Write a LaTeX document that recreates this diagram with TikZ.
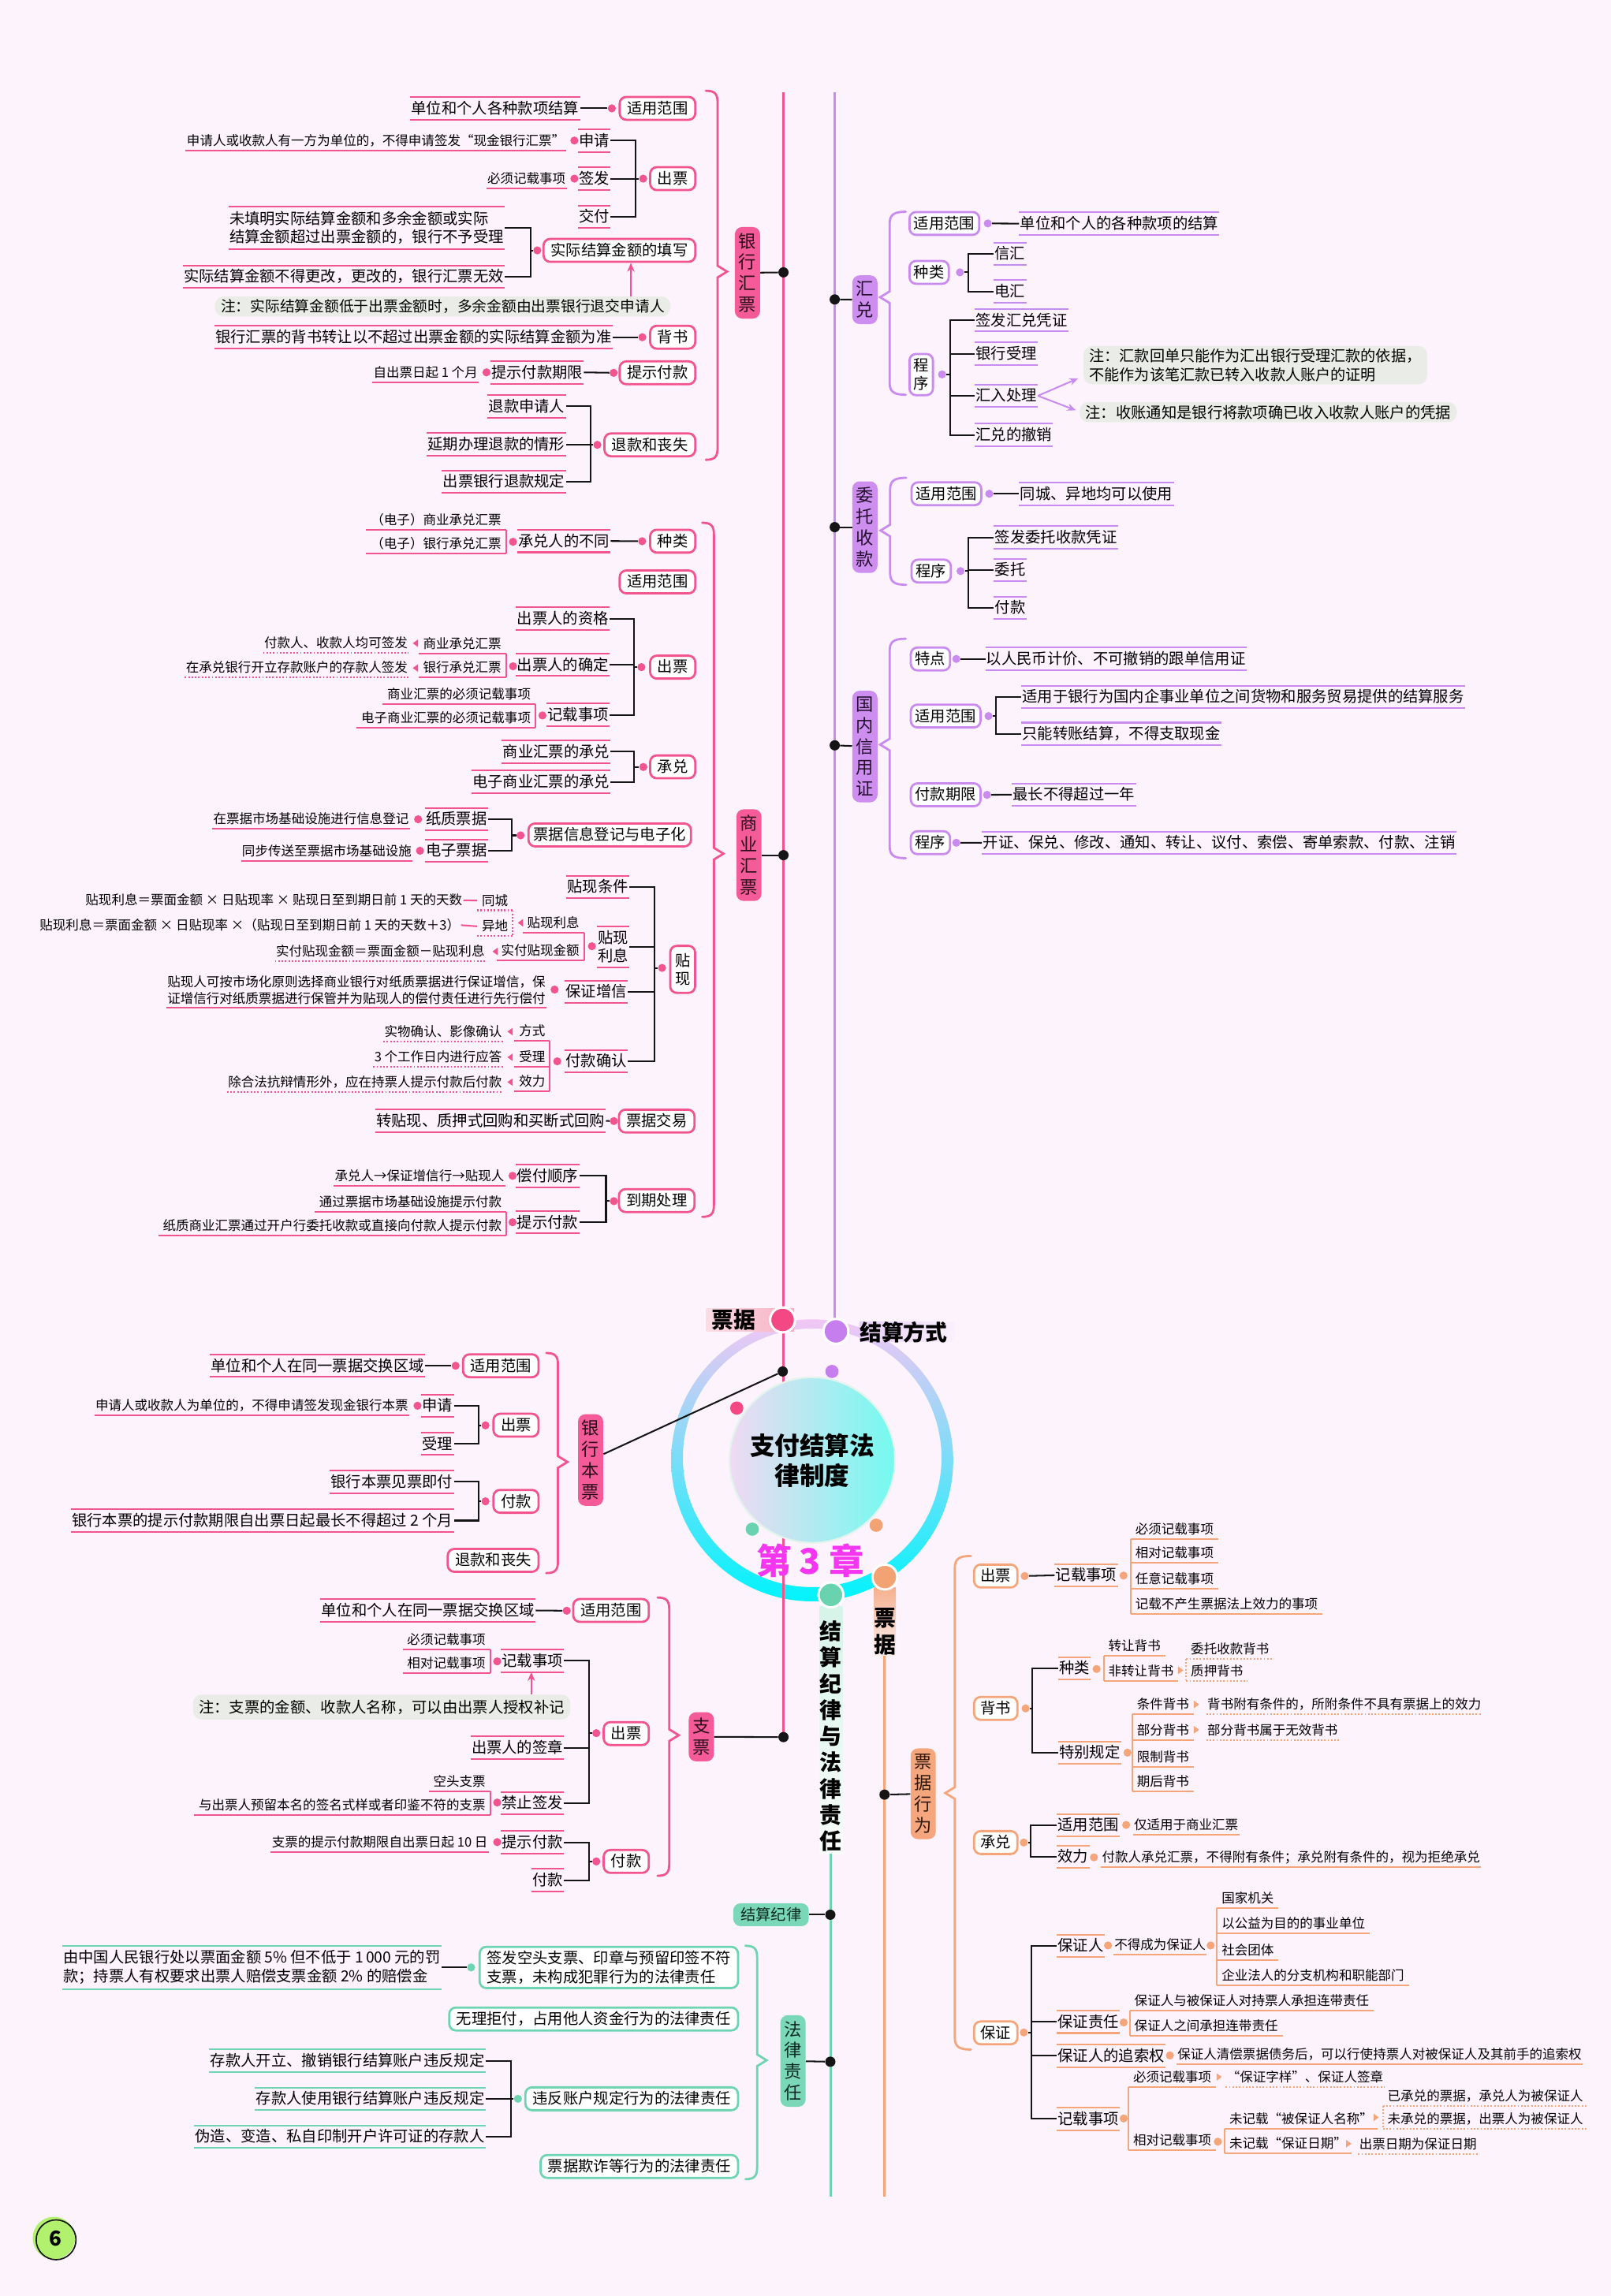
\documentclass[tikz,border=0pt]{standalone}
\usepackage{fontspec}
\setmainfont{Noto Sans CJK SC}
\usetikzlibrary{arrows.meta,calc}
\definecolor{bgc}{HTML}{FDF3FC}
\definecolor{blk}{HTML}{151515}
\definecolor{pk}{HTML}{F2548E}
\definecolor{pkf}{HTML}{F45B98}
\definecolor{pkdk}{HTML}{2A0C18}
\definecolor{pu}{HTML}{C98CEE}
\definecolor{puf}{HTML}{CE8EF0}
\definecolor{pudk}{HTML}{24102E}
\definecolor{tl}{HTML}{6FD4B1}
\definecolor{tlf}{HTML}{7AD8B8}
\definecolor{tldk}{HTML}{0E2A22}
\definecolor{og}{HTML}{F5A57A}
\definecolor{ogf}{HTML}{F5A67C}
\definecolor{ogdk}{HTML}{2E1508}
\definecolor{ntc}{HTML}{E9ECE7}
\definecolor{mg}{HTML}{F436F0}
\definecolor{ringT}{HTML}{F2C6F4}
\definecolor{ringM}{HTML}{96D6F6}
\definecolor{ringB}{HTML}{00F4FC}
\definecolor{ctrL}{HTML}{F0DAF2}
\definecolor{ctrR}{HTML}{74FAF0}
\definecolor{ctrE}{HTML}{E2F4EC}
\definecolor{pkd}{HTML}{F34884}
\definecolor{pud}{HTML}{C67EEF}
\definecolor{tld}{HTML}{68D3AE}
\definecolor{ogd}{HTML}{F3A274}
\definecolor{pkla}{HTML}{FBDDE6}
\definecolor{pklb}{HTML}{F7AFC3}
\definecolor{pula}{HTML}{E9CFF8}
\definecolor{pulb}{HTML}{FAF0FC}
\definecolor{ogla}{HTML}{F6B18E}
\definecolor{oglb}{HTML}{FCEFF1}
\definecolor{tlla}{HTML}{D6F4E9}
\definecolor{tllb}{HTML}{F7FCFA}
\definecolor{badge}{HTML}{B2F16E}
\newcommand\fbig{\fontsize{10.4}{12.5}\selectfont}
\newcommand\fsml{\fontsize{8.9}{11.3}\selectfont}
\newcommand\brkL[4]{\draw[cn] (#3.east) -- (#3.east -| #1) -- (#4.east -| #1) -- (#4.east); \draw[cn] (#2.center -| #1) -- (#2);}
\newcommand\brkR[4]{\draw[cn] (#3.west) -- (#3.west -| #1) -- (#4.west -| #1) -- (#4.west); \draw[cn] (#2.center -| #1) -- (#2);}
\newcommand\stubL[2]{\draw[cn] (#2.east) -- (#2.east -| #1);}
\newcommand\stubR[2]{\draw[cn] (#2.west) -- (#2.west -| #1);}
\newcommand\eL[3]{\draw[ln=#1] (#2.south east) -- (#3.south east);}
\newcommand\eR[3]{\draw[ln=#1] (#2.south west) -- (#3.south west);}
\newcommand\triL[3]{\fill[#1] (#2,#3) -- ({#2+3.6},{#3-2.6}) -- ({#2+3.6},{#3+2.6}) -- cycle;}
\newcommand\triR[3]{\fill[#1] (#2,#3) -- ({#2-3.6},{#3-2.6}) -- ({#2-3.6},{#3+2.6}) -- cycle;}
\newcommand\bracR[5]{\draw[#1,line width=1.5pt,line cap=round,line join=miter] ({#2-8},#3) .. controls ({#2-2},#3) and (#2,{#3+2}) .. (#2,{#3+8}) -- (#2,{#4-4.5}) -- ({#2+6.5},{#4-0.5}) -- (#2,{#4+3.5}) -- (#2,{#5-8}) .. controls (#2,{#5-2}) and ({#2-2},#5) .. ({#2-8},#5);}
\newcommand\bracL[5]{\draw[#1,line width=1.5pt,line cap=round,line join=miter] ({#2+11},#3) .. controls ({#2+3},#3) and (#2,{#3+2}) .. (#2,{#3+8}) -- (#2,{#4-4.5}) -- ({#2-6.5},{#4-0.5}) -- (#2,{#4+3.5}) -- (#2,{#5-8}) .. controls (#2,{#5-2}) and ({#2+3},#5) .. ({#2+11},#5);}
\tikzset{
  cn/.style={draw=blk,line width=1.1pt},
  ln/.style={draw=#1,line width=1.1pt},
  spine/.style={draw=#1,line width=1.6pt},
  lf/.style={font=\fbig,inner xsep=0.6pt,inner ysep=2.3pt,text height=8.9pt,text depth=1.5pt},
  sm/.style={font=\fsml,inner xsep=0.6pt,inner ysep=2pt,text height=7.6pt,text depth=1.3pt},
  ei/.style={sm,inner xsep=3pt},
  lf2/.style={font=\fbig,inner xsep=0.6pt,inner ysep=3pt},
  sm2/.style={font=\fsml,inner xsep=0.6pt,inner ysep=2pt},
  tb/.style={append after command={(\tikzlastnode.north west) edge[ln=#1] (\tikzlastnode.north east) (\tikzlastnode.south west) edge[ln=#1] (\tikzlastnode.south east)}},
  bo/.style={append after command={(\tikzlastnode.south west) edge[ln=#1] (\tikzlastnode.south east)}},
  du/.style={append after command={(\tikzlastnode.south west) edge[ln=#1,dash pattern=on 1pt off 1.3pt] (\tikzlastnode.south east)}},
  bx/.style={draw=#1,fill=white,rounded corners=4.5pt,line width=1.5pt,font=\fbig,inner xsep=5pt,inner ysep=2.6pt,text height=8.9pt,text depth=1.5pt},
  bxp/.style={bx=pu,inner xsep=3pt},
  bx2/.style={draw=#1,fill=white,rounded corners=4.5pt,line width=1.5pt,font=\fontsize{10.4}{12.9}\selectfont,inner xsep=5pt,inner ysep=2.6pt,align=left},
  vb/.style={draw=#1,fill=white,rounded corners=4.5pt,line width=1.5pt,font=\fbig,align=center,inner xsep=3.3pt,inner ysep=5pt},
  cat/.style={fill=#1f,text=#1dk,rounded corners=5pt,inner xsep=2.6pt,inner ysep=4pt,align=center,font=\fontsize{12}{14.5}\selectfont},
  dn/.style={circle,fill=#1,inner sep=0pt,minimum size=5.5pt},
  bd/.style={circle,fill=blk,inner sep=0pt,minimum size=7pt},
  big/.style={circle,fill=#1,draw=white,line width=1.6pt,minimum size=17pt,inner sep=0pt},
  smd/.style={circle,fill=#1,inner sep=0pt,minimum size=9pt},
  nt/.style={fill=ntc,rounded corners=6pt,font=\fbig,inner xsep=4pt,inner ysep=2pt},
  arr/.style={draw=#1,line width=1.1pt,-{Stealth[length=6pt,width=5pt]}},
  lbl/.style={font=\fontsize{15}{18.5}\selectfont\bfseries,inner sep=0pt,align=center},
}
\begin{document}
\begin{tikzpicture}[x=1pt,y=-1pt]
\useasboundingbox (0,0) rectangle (1100,1568);
\fill[bgc] (0,0) rectangle (1100,1568);
% ring
\shade[top color=ringT,middle color=ringM,bottom color=ringB,even odd rule] (554.6,997.3) circle (96.3pt) (554.6,995.6) circle (88.3pt);
% label backgrounds
\shade[left color=pkla,right color=pklb] (482.3,893.5) rectangle (542.1,909.2);
\shade[left color=pula,right color=pulb] (587,902.9) rectangle (651.6,916.4);
\shade[top color=ogla,bottom color=oglb] (596.8,1084) rectangle (611.7,1131);
\shade[top color=tlla,bottom color=tllb] (559.7,1097) rectangle (575.3,1266);
% spines
\coordinate (pkT) at (535,63); \coordinate (pkB) at (535,1186.3);
\coordinate (puT) at (570,63); \coordinate (puB) at (570,909);
\coordinate (tlT) at (567,1266); \coordinate (tlB) at (567,1500);
\coordinate (ogT) at (604,1131); \coordinate (ogB) at (604,1500);
\draw[spine=pk] (pkT) -- (pkB);
\draw[spine=pu] (puT) -- (puB);
\draw[spine=tl] (tlT) -- (tlB);
\draw[spine=og] (ogT) -- (ogB);
% center
\node[circle,minimum size=113pt,inner sep=0pt,left color=ctrL,right color=ctrR,draw=ctrE,line width=1.2pt] (ctr) at (554.7,997.1) {};
\node[font=\fontsize{17}{20.6}\selectfont\bfseries,align=center] (title) at (554.7,997.6) {支付结算法\\律制度};
\node[font=\fontsize{24}{24}\selectfont\bfseries,text=mg] (chap) at (553.3,1066) {第 3 章};
\node[big=pkd] (bg1) at (534.4,901.4) {};
\node[big=pud] (bg2) at (570.8,909.2) {};
\node[big=tld] (bg3) at (567.4,1089.2) {};
\node[big=ogd] (bg4) at (604.2,1077) {};
\node[smd=pkd] (sd1) at (503.1,961.6) {};
\node[smd=pud] (sd2) at (568.1,936.6) {};
\node[smd=tld] (sd3) at (513.7,1044.3) {};
\node[smd=ogd] (sd4) at (598.3,1041.6) {};
\node[lbl] (lpj) at (501.2,901.3) {票据};
\node[lbl] (ljs) at (617,909.7) {结算方式};
\node[lbl] (lpj2) at (604.3,1114.2) {票\\据};
\node[lbl,font=\fontsize{15}{17.9}\selectfont\bfseries] (ljl) at (567.4,1185.6) {结\\算\\纪\\律\\与\\法\\律\\责\\任};

% ===== 银行汇票 =====
\node[bd] (s1) at (535,186) {};
\node[cat=pk] (yhhp) at (510.4,186.3) {银\\行\\汇\\票};
\draw[cn] (yhhp) -- (s1);
\bracR{pk}{490}{62}{186}{314}
\node[bx=pk,anchor=east] (a1) at (475.5,74) {适用范围};
\node[dn=pk] (a1d) at (417.8,74) {};
\node[lf,tb=pk,anchor=east] (a1l) at (396.1,74) {单位和个人各种款项结算};
\draw[cn] (a1l.east) -- (a1d);
\node[bx=pk,anchor=east] (a2) at (475.5,122) {出票};
\node[dn=pk] (a2d) at (439.2,122) {};
\coordinate (xa2) at (434,0);
\node[lf,tb=pk,anchor=east] (a2a) at (417,96) {申请};
\node[lf,tb=pk,anchor=east] (a2b) at (417,122) {签发};
\node[lf,tb=pk,anchor=east] (a2c) at (417,148) {交付};
\brkL{xa2}{a2d}{a2a}{a2c}
\stubL{xa2}{a2b}
\node[dn=pk] (a2ad) at (392.2,96) {};
\node[sm,bo=pk,anchor=east] (a2al) at (386.5,96) {申请人或收款人有一方为单位的，不得申请签发“现金银行汇票”};
\node[dn=pk] (a2bd) at (392.2,122) {};
\node[sm,bo=pk,anchor=east] (a2bl) at (387,122) {必须记载事项};
\node[bx=pk,anchor=east] (a3) at (475.5,171) {实际结算金额的填写};
\node[dn=pk] (a3d) at (366.9,171) {};
\coordinate (xa3) at (362.2,0);
\node[lf2,tb=pk,anchor=east,align=left] (a3a) at (344.7,155.5) {未填明实际结算金额和多余金额或实际\\结算金额超过出票金额的，银行不予受理};
\node[lf,tb=pk,anchor=east] (a3b) at (344.7,189) {实际结算金额不得更改，更改的，银行汇票无效};
\brkL{xa3}{a3d}{a3a}{a3b}
\node[nt,font=\fontsize{10.1}{12}\selectfont] (a3n) at (302.3,209.3) {注：实际结算金额低于出票金额时，多余金额由出票银行退交申请人};
\coordinate (ar1) at (430.8,0);
\draw[arr=pk] (a3n.north -| ar1) -- (a3.south -| ar1);
\node[bx=pk,anchor=east] (a4) at (475.5,230.3) {背书};
\node[dn=pk] (a4d) at (438.6,230.3) {};
\node[lf,tb=pk,anchor=east] (a4l) at (418.3,230.3) {银行汇票的背书转让以不超过出票金额的实际结算金额为准};
\draw[cn] (a4l.east) -- (a4d);
\node[bx=pk,anchor=east] (a5) at (475.5,254.6) {提示付款};
\node[dn=pk] (a5d) at (419,254.6) {};
\node[lf,tb=pk,anchor=east] (a5l) at (398.7,254.3) {提示付款期限};
\draw[cn] (a5l.east) -- (a5d);
\node[dn=pk] (a5ld) at (332.2,254.3) {};
\node[sm,bo=pk,anchor=east] (a5m) at (327,254.3) {自出票日起 1 个月};
\node[bx=pk,anchor=east] (a6) at (475.5,303.8) {退款和丧失};
\node[dn=pk] (a6d) at (407.9,303.8) {};
\coordinate (xa6) at (403.2,0);
\node[lf,tb=pk,anchor=east] (a6a) at (386.5,277.5) {退款申请人};
\node[lf,tb=pk,anchor=east] (a6b) at (386.5,303.5) {延期办理退款的情形};
\node[lf,tb=pk,anchor=east] (a6c) at (386.5,329) {出票银行退款规定};
\brkL{xa6}{a6d}{a6a}{a6c}
\stubL{xa6}{a6b}

% ===== 商业汇票 =====
\node[bd] (s2) at (535,584) {};
\node[cat=pk] (syhp) at (511.4,584) {商\\业\\汇\\票};
\draw[cn] (syhp) -- (s2);
\bracR{pk}{487.5}{357}{583.5}{831}
\node[bx=pk,anchor=east] (b1) at (475.5,369.6) {种类};
\node[dn=pk] (b1d) at (438.5,369.6) {};
\node[lf,tb=pk,anchor=east] (b1l) at (417,369.5) {承兑人的不同};
\draw[cn] (b1l.east) -- (b1d);
\node[dn=pk] (b1ld) at (350.3,370) {};
\node[ei,bo=pk,anchor=east] (b1a) at (345.5,355.4) {（电子）商业承兑汇票};
\node[ei,bo=pk,anchor=east] (b1b) at (345.5,371.6) {（电子）银行承兑汇票};
\eL{pk}{b1a}{b1b}
\node[bx=pk,anchor=east] (b2) at (475.5,397.4) {适用范围};
\node[bx=pk,anchor=east] (b3) at (475.5,455.6) {出票};
\node[dn=pk] (b3d) at (438,455.6) {};
\coordinate (xb3) at (433.1,0);
\node[lf,tb=pk,anchor=east] (b3a) at (416.3,422.5) {出票人的资格};
\node[lf,tb=pk,anchor=east] (b3b) at (416.3,454) {出票人的确定};
\node[lf,tb=pk,anchor=east] (b3c) at (416.3,488.2) {记载事项};
\brkL{xb3}{b3d}{b3a}{b3c}
\stubL{xb3}{b3b}
\node[dn=pk] (b3bd) at (350.3,455) {};
\node[ei,bo=pk,anchor=east] (b3b1) at (345.5,439.5) {商业承兑汇票};
\node[ei,bo=pk,anchor=east] (b3b2) at (345.5,456) {银行承兑汇票};
\eL{pk}{b3b1}{b3b2}
\triL{pk}{281.9}{439.3}
\triL{pk}{281.9}{456.2}
\node[sm,du=pk,anchor=east] (b3b1l) at (279.1,439.2) {付款人、收款人均可签发};
\node[sm,du=pk,anchor=east] (b3b2l) at (279.1,455.8) {在承兑银行开立存款账户的存款人签发};
\node[dn=pk] (b3cd) at (370.4,488.6) {};
\node[ei,bo=pk,anchor=east] (b3c1) at (365.6,474.3) {商业汇票的必须记载事项};
\node[ei,bo=pk,anchor=east] (b3c2) at (365.6,490.4) {电子商业汇票的必须记载事项};
\eL{pk}{b3c1}{b3c2}
\node[bx=pk,anchor=east] (b4) at (475.5,523.7) {承兑};
\node[dn=pk] (b4d) at (439.3,523.8) {};
\coordinate (xb4) at (433.1,0);
\node[lf,tb=pk,anchor=east] (b4a) at (417,513.4) {商业汇票的承兑};
\node[lf,tb=pk,anchor=east] (b4b) at (417,534) {电子商业汇票的承兑};
\brkL{xb4}{b4d}{b4a}{b4b}
\node[bx=pk,anchor=east,inner xsep=3.5pt] (b5) at (472.6,570.2) {票据信息登记与电子化};
\node[dn=pk] (b5d) at (355.5,570.5) {};
\coordinate (xb5) at (349.3,0);
\node[lf,tb=pk,anchor=east] (b5a) at (333.2,559.5) {纸质票据};
\node[lf,tb=pk,anchor=east] (b5b) at (333.2,581) {电子票据};
\brkL{xb5}{b5d}{b5a}{b5b}
\node[dn=pk] (b5ad) at (285.5,559.5) {};
\node[sm,bo=pk,anchor=east] (b5al) at (280,559.4) {在票据市场基础设施进行信息登记};
\node[dn=pk] (b5bd) at (286.8,581) {};
\node[sm,bo=pk,anchor=east] (b5bl) at (281.8,581.2) {同步传送至票据市场基础设施};
\node[vb=pk,anchor=east] (b6) at (475.4,662) {贴\\现};
\node[dn=pk] (b6d) at (452.1,661) {};
\coordinate (xb6) at (446.7,0);
\node[lf,tb=pk,anchor=east] (b6a) at (429.8,605.8) {贴现条件};
\node[lf2,tb=pk,anchor=east,align=center] (b6b) at (429.8,646.7) {贴现\\利息};
\node[lf,tb=pk,anchor=east] (b6c) at (428.8,677.3) {保证增信};
\node[lf,tb=pk,anchor=east] (b6e) at (428.8,724.8) {付款确认};
\brkL{xb6}{b6d}{b6a}{b6e}
\stubL{xb6}{b6b}
\stubL{xb6}{b6c}
\node[dn=pk] (b6bd) at (404.2,646.2) {};
\node[ei,bo=pk,anchor=east] (b6b1) at (398.8,630.6) {贴现利息};
\node[ei,bo=pk,anchor=east] (b6b2) at (398.8,649.1) {实付贴现金额};
\eL{pk}{b6b1}{b6b2}
\triL{pk}{353.6}{630.2}
\node[ei,du=pk,anchor=east] (tc) at (350,615) {同城};
\node[ei,du=pk,anchor=east] (yd) at (350,632.6) {异地};
\draw[pk,line width=1.1pt,dash pattern=on 1pt off 1.3pt] (tc.south east) -- (yd.south east);
\node[sm,anchor=east] (fm1) at (316.4,614.8) {贴现利息＝票面金额 × 日贴现率 × 贴现日至到期日前 1 天的天数};
\node[sm,anchor=east] (fm2) at (314.8,631.8) {贴现利息＝票面金额 × 日贴现率 ×（贴现日至到期日前 1 天的天数＋3）};
\draw[ln=pk] (fm1.east) -- (tc.west);
\draw[ln=pk] (fm2.east) -- (yd.west);
\triL{pk}{336.3}{649.8}
\node[sm,du=pk,anchor=east] (b6b2l) at (331.7,649.8) {实付贴现金额＝票面金额－贴现利息};
\node[dn=pk] (b6cd) at (378.7,675.8) {};
\node[sm2,bo=pk,anchor=east,align=right] (b6cl) at (373.2,676) {贴现人可按市场化原则选择商业银行对纸质票据进行保证增信，保\\证增信行对纸质票据进行保管并为贴现人的偿付责任进行先行偿付};
\node[dn=pk] (b6ed) at (380.5,724.8) {};
\node[ei,bo=pk,anchor=east] (fs1) at (375.5,704.3) {方式};
\node[ei,bo=pk,anchor=east] (fs2) at (375.5,722) {受理};
\node[ei,bo=pk,anchor=east] (fs3) at (375.5,738.6) {效力};
\eL{pk}{fs1}{fs3}
\triL{pk}{346.5}{704.5}
\triL{pk}{346.5}{722}
\triL{pk}{346.5}{739}
\node[sm,du=pk,anchor=east] (fs1l) at (343.5,704.5) {实物确认、影像确认};
\node[sm,du=pk,anchor=east] (fs2l) at (343.5,722) {3 个工作日内进行应答};
\node[sm,du=pk,anchor=east] (fs3l) at (343.5,739) {除合法抗辩情形外，应在持票人提示付款后付款};
\node[bx=pk,anchor=east] (b7) at (475,765.6) {票据交易};
\node[dn=pk] (b7d) at (419.2,765.6) {};
\node[lf,tb=pk,anchor=east] (b7l) at (413.8,765.5) {转贴现、质押式回购和买断式回购};
\draw[cn] (b7l.east) -- (b7d);
\node[bx=pk,anchor=east] (b8) at (475,819.9) {到期处理};
\node[dn=pk] (b8d) at (419.2,820.3) {};
\coordinate (xb8) at (413.8,0);
\node[lf,tb=pk,anchor=east] (b8a) at (395.6,803) {偿付顺序};
\node[lf,tb=pk,anchor=east] (b8b) at (395.6,834.7) {提示付款};
\brkL{xb8}{b8d}{b8a}{b8b}
\node[dn=pk] (b8ad) at (350,803) {};
\node[sm,bo=pk,anchor=east] (b8al) at (345.1,803) {承兑人→保证增信行→贴现人};
\node[dn=pk] (b8bd) at (350,834.7) {};
\node[ei,bo=pk,anchor=east] (b8b1) at (345.8,821) {通过票据市场基础设施提示付款};
\node[ei,bo=pk,anchor=east] (b8b2) at (345.8,837.2) {纸质商业汇票通过开户行委托收款或直接向付款人提示付款};
\eL{pk}{b8b1}{b8b2}

% ===== 银行本票 =====
\node[bd] (s3) at (534.5,936.6) {};
\node[cat=pk] (yhbp) at (403.3,997.1) {银\\行\\本\\票};
\draw[cn] (yhbp) -- (s3);
\bracR{pk}{381}{924}{998.9}{1074.3}
\node[bx=pk,anchor=east] (c1) at (368.5,932.7) {适用范围};
\node[dn=pk] (c1d) at (311.1,932.7) {};
\node[lf,tb=pk,anchor=east] (c1l) at (290.4,932.7) {单位和个人在同一票据交换区域};
\draw[cn] (c1l.east) -- (c1d);
\node[bx=pk,anchor=east] (c2) at (368.5,973.3) {出票};
\node[dn=pk] (c2d) at (331.5,973.4) {};
\coordinate (xc2) at (326.6,0);
\node[lf,tb=pk,anchor=east] (c2a) at (309.9,960) {申请};
\node[lf,tb=pk,anchor=east] (c2b) at (309.9,986) {受理};
\brkL{xc2}{c2d}{c2a}{c2b}
\node[dn=pk] (c2ad) at (285.1,960) {};
\node[sm,bo=pk,anchor=east] (c2al) at (279.6,960) {申请人或收款人为单位的，不得申请签发现金银行本票};
\node[bx=pk,anchor=east] (c3) at (368.5,1025.3) {付款};
\node[dn=pk] (c3d) at (331.5,1025.3) {};
\coordinate (xc3) at (326.6,0);
\node[lf,tb=pk,anchor=east] (c3a) at (309.9,1012) {银行本票见票即付};
\node[lf,tb=pk,anchor=east] (c3b) at (309.9,1038.4) {银行本票的提示付款期限自出票日起最长不得超过 2 个月};
\brkL{xc3}{c3d}{c3a}{c3b}
\node[bx=pk,anchor=east] (c4) at (368.5,1065.6) {退款和丧失};

% ===== 支票 =====
\node[bd] (s4) at (535,1186.3) {};
\node[cat=pk] (zp) at (478.9,1186.1) {支\\票};
\draw[cn] (zp) -- (s4);
\bracR{pk}{457}{1091}{1185.5}{1281}
\node[bx=pk,anchor=east] (e1) at (443.8,1099.8) {适用范围};
\node[dn=pk] (e1d) at (387,1100) {};
\node[lf,tb=pk,anchor=east] (e1l) at (365.8,1099.8) {单位和个人在同一票据交换区域};
\draw[cn] (e1l.east) -- (e1d);
\node[bx=pk,anchor=east] (e2) at (443.8,1183.9) {出票};
\node[dn=pk] (e2d) at (407.2,1183.6) {};
\coordinate (xe2) at (402.1,0);
\node[lf,tb=pk,anchor=east] (e2a) at (385.2,1134.2) {记载事项};
\node[lf,tb=pk,anchor=east] (e2b) at (385.2,1193.5) {出票人的签章};
\node[lf,tb=pk,anchor=east] (e2c) at (385.2,1231.4) {禁止签发};
\brkL{xe2}{e2d}{e2a}{e2c}
\stubL{xe2}{e2b}
\node[dn=pk] (e2ad) at (339.5,1134.6) {};
\node[ei,bo=pk,anchor=east] (e2a1) at (334.7,1119.6) {必须记载事项};
\node[ei,bo=pk,anchor=east] (e2a2) at (334.7,1136.2) {相对记载事项};
\eL{pk}{e2a1}{e2a2}
\node[nt,inner ysep=3.5pt] (e2n) at (260.6,1165.8) {注：支票的金额、收款人名称，可以由出票人授权补记};
\coordinate (ar2) at (362.8,0);
\draw[arr=pk] (e2n.north -| ar2) -- (e2a.south -| ar2);
\node[dn=pk] (e2cd) at (339.5,1231) {};
\node[ei,bo=pk,anchor=east] (e2c1) at (334.7,1216.6) {空头支票};
\node[ei,bo=pk,anchor=east] (e2c2) at (334.7,1232.7) {与出票人预留本名的签名式样或者印鉴不符的支票};
\eL{pk}{e2c1}{e2c2}
\node[bx=pk,anchor=east] (e3) at (443.8,1271.2) {付款};
\node[dn=pk] (e3d) at (407.2,1271.2) {};
\coordinate (xe3) at (402.1,0);
\node[lf,tb=pk,anchor=east] (e3a) at (385.2,1258.2) {提示付款};
\node[lf,tb=pk,anchor=east] (e3b) at (385.2,1284) {付款};
\brkL{xe3}{e3d}{e3a}{e3b}
\node[dn=pk] (e3ad) at (339.5,1258) {};
\node[sm,bo=pk,anchor=east] (e3al) at (333.8,1258) {支票的提示付款期限自出票日起 10 日};

% ===== 结算纪律与法律责任 =====
\node[bd] (s5) at (567,1307.6) {};
\node[bd] (s6) at (567,1408) {};
\node[cat=tl,anchor=east,font=\fbig,inner xsep=5pt,inner ysep=3pt] (jsjl) at (552.5,1307.6) {结算纪律};
\draw[cn] (jsjl) -- (s5);
\node[cat=tl] (flzr) at (541.5,1407.5) {法\\律\\责\\任};
\draw[cn] (flzr) -- (s6);
\bracR{tl}{517}{1328.8}{1407.5}{1488.2}
\node[bx2=tl,anchor=east] (f1) at (504.7,1343.6) {签发空头支票、印章与预留印签不符\\支票，未构成犯罪行为的法律责任};
\node[dn=tl] (f1d) at (321.7,1343.6) {};
\node[lf2,tb=tl,anchor=east,align=left,font=\fontsize{10.4}{12.9}\selectfont] (f1l) at (301.5,1343.6) {由中国人民银行处以票面金额 5\% 但不低于 1\,000 元的罚\\款；持票人有权要求出票人赔偿支票金额 2\% 的赔偿金};
\draw[cn] (f1l.east) -- (f1d);
\node[bx=tl,anchor=east] (f2) at (504.7,1378.8) {无理拒付，占用他人资金行为的法律责任};
\node[bx=tl,anchor=east] (f3) at (504.7,1433.3) {违反账户规定行为的法律责任};
\node[dn=tl] (f3d) at (353.7,1433.3) {};
\coordinate (xf3) at (348.9,0);
\node[lf,tb=tl,anchor=east] (f3a) at (331.7,1407.4) {存款人开立、撤销银行结算账户违反规定};
\node[lf,tb=tl,anchor=east] (f3b) at (331.7,1433.3) {存款人使用银行结算账户违反规定};
\node[lf,tb=tl,anchor=east] (f3c) at (331.7,1459.2) {伪造、变造、私自印制开户许可证的存款人};
\brkL{xf3}{f3d}{f3a}{f3c}
\stubL{xf3}{f3b}
\node[bx=tl,anchor=east] (f4) at (504.7,1479.5) {票据欺诈等行为的法律责任};

% ===== 票据行为 =====
\node[bd] (s7) at (604,1225.6) {};
\node[cat=og] (pjxw) at (630.4,1225) {票\\据\\行\\为};
\draw[cn] (s7) -- (pjxw);
\bracL{og}{652}{1062.6}{1225}{1399.7}
\node[bx=og,anchor=west,inner xsep=4.4pt] (g1) at (664.4,1076.3) {出票};
\node[dn=og] (g1d) at (699.7,1076.3) {};
\node[lf,tb=og,anchor=west] (g1l) at (720.1,1075.8) {记载事项};
\draw[cn] (g1d) -- (g1l.west);
\node[dn=og] (g1ld) at (767.2,1076) {};
\node[ei,bo=og,anchor=west] (g11) at (772.1,1044.3) {必须记载事项};
\node[ei,bo=og,anchor=west] (g12) at (772.1,1060.8) {相对记载事项};
\node[ei,bo=og,anchor=west] (g13) at (772.1,1078.4) {任意记载事项};
\node[ei,bo=og,anchor=west] (g14) at (772.1,1095.8) {记载不产生票据法上效力的事项};
\eR{og}{g11}{g14}
\node[bx=og,anchor=west,inner xsep=4.4pt] (g2) at (664.4,1166.7) {背书};
\node[dn=og] (g2d) at (700.3,1166.7) {};
\coordinate (xg2) at (704.9,0);
\node[lf,tb=og,anchor=west] (g2a) at (722.4,1139.4) {种类};
\node[lf,tb=og,anchor=west] (g2b) at (722.4,1197) {特别规定};
\brkR{xg2}{g2d}{g2a}{g2b}
\node[dn=og] (g2ad) at (748.8,1139.8) {};
\node[ei,bo=og,anchor=west] (g2a1) at (753.7,1124) {转让背书};
\node[ei,bo=og,anchor=west] (g2a2) at (753.7,1141.4) {非转让背书};
\eR{og}{g2a1}{g2a2}
\triR{og}{808}{1140.7}
\node[ei,du=og,anchor=west] (g2x1) at (810,1126.2) {委托收款背书};
\node[ei,du=og,anchor=west] (g2x2) at (810,1141.5) {质押背书};
\draw[og,line width=1.1pt,dash pattern=on 1pt off 1.3pt] (g2x1.south west) -- (g2x2.south west);
\node[dn=og] (g2bd) at (769.9,1196.9) {};
\node[ei,bo=og,anchor=west] (g2b1) at (773.2,1164.2) {条件背书};
\node[ei,bo=og,anchor=west] (g2b2) at (773.2,1181.5) {部分背书};
\node[ei,bo=og,anchor=west] (g2b3) at (773.2,1199.8) {限制背书};
\node[ei,bo=og,anchor=west] (g2b4) at (773.2,1216.8) {期后背书};
\eR{og}{g2b1}{g2b4}
\triR{og}{818.8}{1164}
\triR{og}{818.8}{1181.3}
\node[sm,du=og,anchor=west] (g2b1l) at (823.7,1164.2) {背书附有条件的，所附条件不具有票据上的效力};
\node[sm,du=og,anchor=west] (g2b2l) at (823.7,1181.5) {部分背书属于无效背书};
\node[bx=og,anchor=west,inner xsep=4.4pt] (g3) at (664.4,1258.3) {承兑};
\node[dn=og] (g3d) at (699.1,1258.3) {};
\coordinate (xg3) at (703.6,0);
\node[lf,tb=og,anchor=west] (g3a) at (721.6,1246.5) {适用范围};
\node[lf,tb=og,anchor=west] (g3b) at (721.6,1268) {效力};
\brkR{xg3}{g3d}{g3a}{g3b}
\node[dn=og] (g3ad) at (769,1246.3) {};
\node[sm,bo=og,anchor=west] (g3al) at (773.5,1246.3) {仅适用于商业汇票};
\node[dn=og] (g3bd) at (747,1268.4) {};
\node[sm,bo=og,anchor=west] (g3bl) at (751.7,1268.4) {付款人承兑汇票，不得附有条件；承兑附有条件的，视为拒绝承兑};
\node[bx=og,anchor=west,inner xsep=4.4pt] (g4) at (664.4,1388.3) {保证};
\node[dn=og] (g4d) at (699.1,1388) {};
\coordinate (xg4) at (704.1,0);
\node[lf,tb=og,anchor=west] (g4a) at (721.6,1328.9) {保证人};
\node[lf,tb=og,anchor=west] (g4b) at (721.6,1380.7) {保证责任};
\node[lf,tb=og,anchor=west] (g4c) at (721.6,1404) {保证人的追索权};
\node[lf,tb=og,anchor=west] (g4e) at (721.6,1447) {记载事项};
\brkR{xg4}{g4d}{g4a}{g4e}
\stubR{xg4}{g4b}
\stubR{xg4}{g4c}
\node[dn=og] (g4ad) at (756.6,1328.6) {};
\node[sm,bo=og,anchor=west] (g4al) at (760.2,1328.4) {不得成为保证人};
\node[dn=og] (g4ald) at (826.7,1328.6) {};
\node[ei,bo=og,anchor=west] (g4a1) at (831,1296.4) {国家机关};
\node[ei,bo=og,anchor=west] (g4a2) at (831,1313.8) {以公益为目的的事业单位};
\node[ei,bo=og,anchor=west] (g4a3) at (831,1331.8) {社会团体};
\node[ei,bo=og,anchor=west] (g4a4) at (831,1349.2) {企业法人的分支机构和职能部门};
\eR{og}{g4a1}{g4a4}
\node[dn=og] (g4bd) at (767.3,1381.2) {};
\node[ei,bo=og,anchor=west] (g4b1) at (771.5,1366.3) {保证人与被保证人对持票人承担连带责任};
\node[ei,bo=og,anchor=west] (g4b2) at (771.5,1383.8) {保证人之间承担连带责任};
\eR{og}{g4b1}{g4b2}
\node[dn=og] (g4cd) at (798.9,1403.7) {};
\node[sm,bo=og,anchor=west] (g4cl) at (803.3,1403) {保证人清偿票据债务后，可以行使持票人对被保证人及其前手的追索权};
\node[dn=og] (g4ed) at (767.3,1446.7) {};
\node[ei,bo=og,anchor=west] (g4e1) at (770.6,1418.4) {必须记载事项};
\node[ei,bo=og,anchor=west] (g4e2) at (770.6,1461.8) {相对记载事项};
\eR{og}{g4e1}{g4e2}
\triR{og}{834.3}{1418.4}
\node[sm,du=og,anchor=west] (g4e1l) at (836.9,1418.6) {“保证字样”、保证人签章};
\node[dn=og] (g4e2d) at (831.6,1462.6) {};
\node[ei,bo=og,anchor=west] (g4e21) at (836.3,1447.2) {未记载“被保证人名称”};
\node[ei,bo=og,anchor=west] (g4e22) at (836.3,1464) {未记载“保证日期”};
\eR{og}{g4e21}{g4e22}
\triR{og}{941.5}{1446}
\node[ei,du=og,anchor=west] (g4y1) at (944.3,1431.4) {已承兑的票据，承兑人为被保证人};
\node[ei,du=og,anchor=west] (g4y2) at (944.3,1447.2) {未承兑的票据，出票人为被保证人};
\draw[og,line width=1.1pt,dash pattern=on 1pt off 1.3pt] (g4y1.south west) -- (g4y2.south west);
\triR{og}{922.8}{1464}
\node[sm,du=og,anchor=west] (g4z) at (927.4,1464.3) {出票日期为保证日期};

% ===== 汇兑 =====
\node[bd] (s8) at (570,204.5) {};
\node[cat=pu] (hd) at (590.6,204.7) {汇\\兑};
\draw[cn] (s8) -- (hd);
\bracL{pu}{607.5}{144.6}{203.5}{269.6}
\node[bxp,anchor=west] (h1) at (620.3,152.6) {适用范围};
\node[dn=pu] (h1d) at (674.5,152.6) {};
\node[lf,tb=pu,anchor=west] (h1l) at (695.9,152.7) {单位和个人的各种款项的结算};
\draw[cn] (h1d) -- (h1l.west);
\node[bxp,anchor=west] (h2) at (620.3,186) {种类};
\node[dn=pu] (h2d) at (655.5,186) {};
\coordinate (xh2) at (661.1,0);
\node[lf,tb=pu,anchor=west] (h2a) at (678.5,173.4) {信汇};
\node[lf,tb=pu,anchor=west] (h2b) at (678.5,199) {电汇};
\brkR{xh2}{h2d}{h2a}{h2b}
\node[vb=pu,anchor=west,inner xsep=2.8pt,inner ysep=3.1pt] (h3) at (620.3,255.8) {程\\序};
\node[dn=pu] (h3d) at (643.3,255.7) {};
\coordinate (xh3) at (648.6,0);
\node[lf,tb=pu,anchor=west] (h3a) at (665.5,218.7) {签发汇兑凭证};
\node[lf,tb=pu,anchor=west] (h3b) at (665.5,241.6) {银行受理};
\node[lf,tb=pu,anchor=west] (h3c) at (665.5,270.3) {汇入处理};
\node[lf,tb=pu,anchor=west] (h3e) at (665.5,297) {汇兑的撤销};
\brkR{xh3}{h3d}{h3a}{h3e}
\stubR{xh3}{h3b}
\stubR{xh3}{h3c}
\node[nt,anchor=west,align=left,font=\fontsize{10.3}{12.5}\selectfont] (hn1) at (739.7,249.4) {注：汇款回单只能作为汇出银行受理汇款的依据，\\不能作为该笔汇款已转入收款人账户的证明};
\node[nt,anchor=west] (hn2) at (737,281.5) {注：收账通知是银行将款项确已收入收款人账户的凭据};
\draw[arr=pu] (h3c.east) -- ($(hn1.west)+(-3.5,9)$);
\draw[arr=pu] (h3c.east) -- ($(hn2.west)+(-2.3,-1.3)$);

% ===== 委托收款 =====
\node[bd] (s9) at (570,360) {};
\node[cat=pu] (wt) at (590.6,360) {委\\托\\收\\款};
\draw[cn] (s9) -- (wt);
\bracL{pu}{607.8}{326.3}{362.8}{399.4}
\node[bxp,anchor=west] (w1) at (621.7,337.2) {适用范围};
\node[dn=pu] (w1d) at (675.5,337.2) {};
\node[lf,tb=pu,anchor=west] (w1l) at (695.9,337.2) {同城、异地均可以使用};
\draw[cn] (w1d) -- (w1l.west);
\node[bxp,anchor=west] (w2) at (621.7,390) {程序};
\node[dn=pu] (w2d) at (655.9,390) {};
\coordinate (xw2) at (661.1,0);
\node[lf,tb=pu,anchor=west] (w2a) at (678.7,367) {签发委托收款凭证};
\node[lf,tb=pu,anchor=west] (w2b) at (678.7,389.3) {委托};
\node[lf,tb=pu,anchor=west] (w2c) at (678.7,415.2) {付款};
\brkR{xw2}{w2d}{w2a}{w2c}
\stubR{xw2}{w2b}

% ===== 国内信用证 =====
\node[bd] (s10) at (570,509) {};
\node[cat=pu] (gn) at (590.6,509.8) {国\\内\\信\\用\\证};
\draw[cn] (s10) -- (gn);
\bracL{pu}{607.5}{436.2}{509}{586.1}
\node[bxp,anchor=west] (n1) at (621.2,450) {特点};
\node[dn=pu] (n1d) at (653,450) {};
\node[lf,tb=pu,anchor=west] (n1l) at (672.8,450) {以人民币计价、不可撤销的跟单信用证};
\draw[cn] (n1d) -- (n1l.west);
\node[bxp,anchor=west] (n2) at (621.2,489) {适用范围};
\node[dn=pu] (n2d) at (675,489) {};
\coordinate (xn2) at (680.3,0);
\node[lf,tb=pu,anchor=west] (n2a) at (697.3,476) {适用于银行为国内企事业单位之间货物和服务贸易提供的结算服务};
\node[lf,tb=pu,anchor=west] (n2b) at (697.3,501.2) {只能转账结算，不得支取现金};
\brkR{xn2}{n2d}{n2a}{n2b}
\node[bxp,anchor=west] (n3) at (621.2,542.8) {付款期限};
\node[dn=pu] (n3d) at (674,542.8) {};
\node[lf,tb=pu,anchor=west] (n3l) at (690.9,542.7) {最长不得超过一年};
\draw[cn] (n3d) -- (n3l.west);
\node[bxp,anchor=west] (n4) at (621.2,575.5) {程序};
\node[dn=pu] (n4d) at (653,575.5) {};
\node[lf,tb=pu,anchor=west] (n4l) at (670.5,575.6) {开证、保兑、修改、通知、转让、议付、索偿、寄单索款、付款、注销};
\draw[cn] (n4d) -- (n4l.west);

% ===== page badge =====
\node[circle,fill=badge,minimum size=29pt,inner sep=0pt] (pgb) at (36.8,1528.4) {};
\draw[blk,line width=0.9pt] (38.3,1529.6) circle (13.6pt);
\node[font=\fontsize{14}{14}\selectfont\bfseries] (pgn) at (37.8,1528.8) {6};
\end{tikzpicture}
\end{document}
